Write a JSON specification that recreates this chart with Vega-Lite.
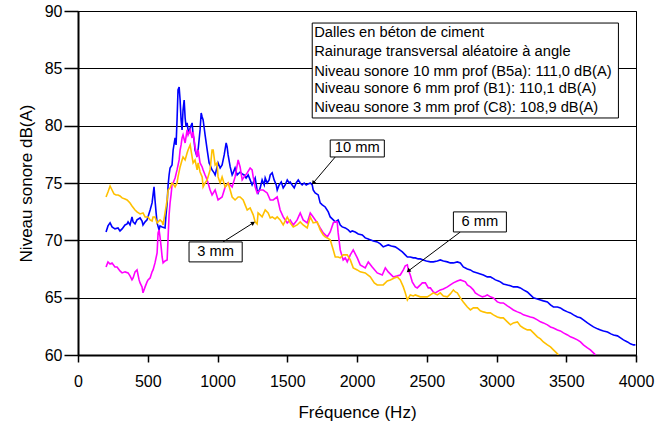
{
  "$schema": "https://vega.github.io/schema/vega-lite/v6.json",
  "autosize": {"type": "none"},
  "width": 558,
  "height": 344,
  "padding": {"left": 78, "top": 11, "right": 32, "bottom": 75},
  "background": "white",
  "config": {
    "font": "Liberation Sans",
    "view": {"stroke": "#000", "strokeWidth": 1},
    "axis": {"labelFont": "Liberation Sans", "titleFont": "Liberation Sans", "labelColor": "#000", "titleColor": "#000", "domainColor": "#000", "tickColor": "#000", "domainWidth": 2, "tickWidth": 1.5, "labelFontSize": 16, "titleFontSize": 17, "titleFontWeight": "normal", "gridColor": "#000", "gridWidth": 1, "gridOpacity": 1, "labelFlush": false, "labelOverlap": false},
    "axisX": {"grid": false, "tickSize": 7, "labelPadding": 11, "titlePadding": 15},
    "axisY": {"grid": true, "tickSize": 14, "labelPadding": 2, "titlePadding": 9}
  },
  "layer": [
    {
      "data": {"values": [
        {"f":201,"db":70.73},{"f":215,"db":71.26},{"f":230,"db":71.52},{"f":244,"db":71.17},{"f":265,"db":71.0},{"f":287,"db":71.08},{"f":301,"db":70.82},{"f":316,"db":71.0},{"f":337,"db":71.34},{"f":352,"db":71.43},{"f":359,"db":71.61},{"f":373,"db":71.34},{"f":387,"db":72.04},{"f":395,"db":71.61},{"f":409,"db":71.43},{"f":423,"db":71.78},{"f":445,"db":71.95},{"f":459,"db":71.69},{"f":466,"db":71.34},{"f":481,"db":71.61},{"f":495,"db":71.78},{"f":517,"db":72.65},{"f":531,"db":73.26},{"f":538,"db":73.96},{"f":545,"db":74.66},{"f":552,"db":73.52},{"f":560,"db":72.39},{"f":567,"db":71.52},{"f":581,"db":70.91},{"f":588,"db":71.26},{"f":603,"db":71.17},{"f":624,"db":71.08},{"f":631,"db":72.22},{"f":639,"db":73.26},{"f":646,"db":74.83},{"f":653,"db":75.7},{"f":660,"db":76.31},{"f":674,"db":76.57},{"f":682,"db":77.88},{"f":696,"db":78.93},{"f":703,"db":78.32},{"f":710,"db":80.5},{"f":717,"db":83.11},{"f":725,"db":83.37},{"f":732,"db":82.24},{"f":739,"db":80.5},{"f":746,"db":79.63},{"f":753,"db":81.37},{"f":761,"db":82.24},{"f":768,"db":80.67},{"f":775,"db":79.89},{"f":782,"db":80.24},{"f":789,"db":79.63},{"f":796,"db":79.45},{"f":804,"db":79.8},{"f":818,"db":80.24},{"f":825,"db":79.19},{"f":832,"db":78.75},{"f":839,"db":77.88},{"f":854,"db":77.27},{"f":861,"db":77.88},{"f":875,"db":79.63},{"f":883,"db":81.11},{"f":890,"db":80.76},{"f":897,"db":80.5},{"f":911,"db":79.19},{"f":926,"db":77.88},{"f":940,"db":76.75},{"f":947,"db":76.57},{"f":961,"db":76.14},{"f":976,"db":75.88},{"f":983,"db":75.7},{"f":997,"db":76.4},{"f":1004,"db":76.75},{"f":1019,"db":76.31},{"f":1033,"db":76.57},{"f":1048,"db":77.45},{"f":1062,"db":78.49},{"f":1069,"db":78.14},{"f":1076,"db":77.45},{"f":1091,"db":76.4},{"f":1105,"db":75.7},{"f":1112,"db":75.88},{"f":1126,"db":76.31},{"f":1141,"db":75.7},{"f":1162,"db":75.96},{"f":1177,"db":75.79},{"f":1191,"db":75.7},{"f":1205,"db":75.44},{"f":1220,"db":75.7},{"f":1234,"db":75.27},{"f":1248,"db":74.83},{"f":1270,"db":75.44},{"f":1284,"db":74.39},{"f":1291,"db":74.13},{"f":1306,"db":74.57},{"f":1320,"db":75.27},{"f":1335,"db":74.83},{"f":1342,"db":75.44},{"f":1356,"db":75.0},{"f":1370,"db":75.27},{"f":1378,"db":75.7},{"f":1392,"db":75.88},{"f":1406,"db":75.27},{"f":1421,"db":74.83},{"f":1428,"db":74.39},{"f":1442,"db":74.83},{"f":1457,"db":75.09},{"f":1471,"db":74.57},{"f":1485,"db":74.83},{"f":1500,"db":75.27},{"f":1514,"db":75.0},{"f":1521,"db":75.09},{"f":1535,"db":74.83},{"f":1550,"db":74.57},{"f":1564,"db":75.0},{"f":1579,"db":75.27},{"f":1593,"db":75.0},{"f":1607,"db":74.83},{"f":1621,"db":75.0},{"f":1636,"db":74.83},{"f":1650,"db":74.92},{"f":1665,"db":75.0},{"f":1679,"db":74.83},{"f":1686,"db":74.39},{"f":1700,"db":74.13},{"f":1722,"db":73.96},{"f":1736,"db":73.26},{"f":1751,"db":73.09},{"f":1772,"db":72.91},{"f":1794,"db":72.48},{"f":1808,"db":72.04},{"f":1830,"db":71.78},{"f":1844,"db":71.61},{"f":1865,"db":71.78},{"f":1880,"db":71.34},{"f":1894,"db":71.17},{"f":1916,"db":71.08},{"f":1937,"db":70.91},{"f":1952,"db":70.73},{"f":1966,"db":70.82},{"f":1987,"db":70.73},{"f":2009,"db":70.56},{"f":2038,"db":70.47},{"f":2059,"db":70.21},{"f":2081,"db":70.12},{"f":2095,"db":70.04},{"f":2117,"db":69.95},{"f":2145,"db":69.86},{"f":2167,"db":69.69},{"f":2188,"db":69.43},{"f":2203,"db":69.51},{"f":2224,"db":69.6},{"f":2246,"db":69.51},{"f":2274,"db":69.43},{"f":2296,"db":69.25},{"f":2325,"db":68.99},{"f":2346,"db":68.73},{"f":2361,"db":68.55},{"f":2382,"db":68.55},{"f":2404,"db":68.47},{"f":2418,"db":68.47},{"f":2439,"db":68.38},{"f":2454,"db":68.38},{"f":2475,"db":68.29},{"f":2497,"db":68.2},{"f":2526,"db":68.12},{"f":2547,"db":68.12},{"f":2576,"db":68.2},{"f":2597,"db":68.29},{"f":2619,"db":68.2},{"f":2648,"db":68.12},{"f":2669,"db":68.03},{"f":2691,"db":68.03},{"f":2719,"db":68.12},{"f":2741,"db":68.03},{"f":2762,"db":67.68},{"f":2791,"db":67.51},{"f":2813,"db":67.42},{"f":2834,"db":67.25},{"f":2863,"db":67.16},{"f":2884,"db":67.07},{"f":2906,"db":66.98},{"f":2934,"db":66.81},{"f":2956,"db":66.81},{"f":2970,"db":66.72},{"f":2992,"db":66.55},{"f":3014,"db":66.46},{"f":3028,"db":66.38},{"f":3049,"db":66.2},{"f":3078,"db":66.11},{"f":3100,"db":66.03},{"f":3121,"db":65.94},{"f":3150,"db":65.94},{"f":3171,"db":65.85},{"f":3193,"db":65.68},{"f":3221,"db":65.5},{"f":3243,"db":65.24},{"f":3265,"db":64.98},{"f":3293,"db":64.89},{"f":3315,"db":64.8},{"f":3336,"db":64.72},{"f":3365,"db":64.63},{"f":3387,"db":64.37},{"f":3408,"db":64.19},{"f":3437,"db":64.19},{"f":3458,"db":64.11},{"f":3480,"db":63.93},{"f":3509,"db":63.76},{"f":3530,"db":63.67},{"f":3552,"db":63.5},{"f":3580,"db":63.32},{"f":3602,"db":63.24},{"f":3623,"db":63.06},{"f":3652,"db":62.8},{"f":3673,"db":62.63},{"f":3695,"db":62.45},{"f":3724,"db":62.28},{"f":3745,"db":62.19},{"f":3767,"db":62.1},{"f":3796,"db":62.01},{"f":3820,"db":61.84},{"f":3839,"db":61.75},{"f":3867,"db":61.67},{"f":3889,"db":61.49},{"f":3910,"db":61.32},{"f":3939,"db":61.14},{"f":3960,"db":60.97},{"f":3982,"db":60.88},{"f":3996,"db":60.88}
      ]},
      "mark": {"type": "line", "color": "#0000FF", "strokeWidth": 1.6, "clip": true},
      "encoding": {
        "x": {"field": "f", "type": "quantitative", "title": "Fréquence (Hz)", "scale": {"domain": [0, 4000], "nice": false, "zero": false}, "axis": {"values": [0, 500, 1000, 1500, 2000, 2500, 3000, 3500, 4000], "format": "d"}},
        "y": {"field": "db", "type": "quantitative", "title": "Niveau sonore dB(A)", "scale": {"domain": [60, 90], "nice": false, "zero": false}, "axis": {"values": [60, 65, 70, 75, 80, 85, 90], "format": "d"}}
      }
    },
    {
      "data": {"values": [
        {"f":201,"db":67.68},{"f":215,"db":68.12},{"f":230,"db":67.94},{"f":244,"db":68.03},{"f":265,"db":67.68},{"f":280,"db":67.68},{"f":301,"db":67.33},{"f":316,"db":67.16},{"f":337,"db":67.25},{"f":359,"db":67.16},{"f":373,"db":66.9},{"f":387,"db":66.55},{"f":395,"db":66.72},{"f":409,"db":67.25},{"f":423,"db":67.42},{"f":438,"db":66.55},{"f":445,"db":66.29},{"f":459,"db":65.94},{"f":466,"db":65.42},{"f":481,"db":65.94},{"f":495,"db":66.38},{"f":502,"db":66.55},{"f":517,"db":66.72},{"f":531,"db":67.25},{"f":538,"db":67.42},{"f":552,"db":68.03},{"f":567,"db":68.9},{"f":574,"db":70.65},{"f":581,"db":70.91},{"f":588,"db":70.3},{"f":596,"db":69.43},{"f":603,"db":68.55},{"f":610,"db":68.03},{"f":624,"db":68.2},{"f":639,"db":68.29},{"f":646,"db":70.3},{"f":653,"db":72.22},{"f":660,"db":73.26},{"f":667,"db":73.96},{"f":674,"db":74.83},{"f":682,"db":75.0},{"f":696,"db":75.44},{"f":710,"db":76.14},{"f":725,"db":77.01},{"f":732,"db":77.88},{"f":739,"db":78.32},{"f":746,"db":78.93},{"f":753,"db":79.19},{"f":768,"db":78.49},{"f":782,"db":79.63},{"f":789,"db":79.19},{"f":804,"db":79.63},{"f":818,"db":78.93},{"f":825,"db":79.45},{"f":839,"db":78.14},{"f":854,"db":77.27},{"f":861,"db":77.88},{"f":875,"db":76.75},{"f":890,"db":76.4},{"f":897,"db":76.14},{"f":911,"db":75.7},{"f":926,"db":75.27},{"f":947,"db":74.39},{"f":961,"db":73.96},{"f":983,"db":74.39},{"f":1004,"db":73.52},{"f":1033,"db":73.78},{"f":1055,"db":74.66},{"f":1076,"db":75.0},{"f":1105,"db":74.66},{"f":1126,"db":75.53},{"f":1148,"db":77.01},{"f":1162,"db":76.4},{"f":1177,"db":75.27},{"f":1191,"db":75.53},{"f":1213,"db":75.88},{"f":1234,"db":76.31},{"f":1248,"db":76.14},{"f":1256,"db":75.53},{"f":1270,"db":74.66},{"f":1284,"db":74.13},{"f":1306,"db":74.39},{"f":1327,"db":74.39},{"f":1356,"db":74.13},{"f":1378,"db":73.52},{"f":1399,"db":73.52},{"f":1428,"db":73.78},{"f":1449,"db":72.65},{"f":1471,"db":72.04},{"f":1500,"db":71.52},{"f":1521,"db":71.78},{"f":1543,"db":71.34},{"f":1571,"db":71.78},{"f":1593,"db":72.39},{"f":1614,"db":71.78},{"f":1643,"db":71.52},{"f":1665,"db":72.39},{"f":1686,"db":72.04},{"f":1715,"db":71.52},{"f":1736,"db":71.08},{"f":1758,"db":70.65},{"f":1787,"db":70.3},{"f":1808,"db":70.73},{"f":1830,"db":71.52},{"f":1844,"db":71.61},{"f":1858,"db":71.61},{"f":1865,"db":70.65},{"f":1880,"db":69.16},{"f":1901,"db":68.29},{"f":1916,"db":68.47},{"f":1930,"db":68.12},{"f":1952,"db":68.73},{"f":1973,"db":69.16},{"f":2002,"db":68.47},{"f":2023,"db":67.86},{"f":2059,"db":67.6},{"f":2081,"db":68.12},{"f":2109,"db":67.68},{"f":2145,"db":67.16},{"f":2181,"db":66.98},{"f":2203,"db":67.6},{"f":2224,"db":67.25},{"f":2260,"db":66.81},{"f":2289,"db":66.9},{"f":2310,"db":66.98},{"f":2332,"db":67.42},{"f":2346,"db":67.77},{"f":2361,"db":67.86},{"f":2368,"db":67.42},{"f":2382,"db":66.98},{"f":2396,"db":66.38},{"f":2418,"db":65.94},{"f":2432,"db":65.85},{"f":2454,"db":66.11},{"f":2468,"db":66.29},{"f":2490,"db":66.29},{"f":2511,"db":65.85},{"f":2526,"db":65.85},{"f":2547,"db":65.5},{"f":2561,"db":65.42},{"f":2597,"db":65.68},{"f":2619,"db":65.76},{"f":2648,"db":65.94},{"f":2669,"db":66.11},{"f":2691,"db":66.29},{"f":2719,"db":66.46},{"f":2741,"db":66.55},{"f":2762,"db":66.46},{"f":2777,"db":66.38},{"f":2791,"db":66.11},{"f":2813,"db":65.94},{"f":2834,"db":65.68},{"f":2848,"db":65.42},{"f":2870,"db":65.24},{"f":2899,"db":65.07},{"f":2920,"db":65.15},{"f":2934,"db":65.24},{"f":2956,"db":65.07},{"f":2978,"db":64.98},{"f":3006,"db":64.63},{"f":3028,"db":64.54},{"f":3049,"db":64.54},{"f":3078,"db":64.28},{"f":3100,"db":64.11},{"f":3121,"db":63.93},{"f":3150,"db":63.76},{"f":3171,"db":63.67},{"f":3193,"db":63.5},{"f":3221,"db":63.41},{"f":3243,"db":63.32},{"f":3265,"db":63.24},{"f":3293,"db":63.06},{"f":3315,"db":62.89},{"f":3336,"db":62.8},{"f":3365,"db":62.63},{"f":3387,"db":62.45},{"f":3408,"db":62.36},{"f":3437,"db":62.19},{"f":3458,"db":62.1},{"f":3480,"db":61.93},{"f":3509,"db":61.75},{"f":3530,"db":61.58},{"f":3552,"db":61.49},{"f":3580,"db":61.32},{"f":3602,"db":61.14},{"f":3623,"db":60.88},{"f":3652,"db":60.62},{"f":3673,"db":60.45},{"f":3695,"db":60.18},{"f":3709,"db":60.01}
      ]},
      "mark": {"type": "line", "color": "#FF00FF", "strokeWidth": 1.6, "clip": true},
      "encoding": {
        "x": {"field": "f", "type": "quantitative", "title": "Fréquence (Hz)"},
        "y": {"field": "db", "type": "quantitative", "title": "Niveau sonore dB(A)"}
      }
    },
    {
      "data": {"values": [
        {"f":201,"db":73.78},{"f":215,"db":74.22},{"f":230,"db":74.74},{"f":244,"db":74.39},{"f":258,"db":74.05},{"f":273,"db":73.96},{"f":287,"db":73.96},{"f":301,"db":73.87},{"f":316,"db":73.7},{"f":337,"db":73.61},{"f":352,"db":73.52},{"f":373,"db":73.26},{"f":387,"db":73.0},{"f":409,"db":72.65},{"f":423,"db":72.48},{"f":445,"db":72.3},{"f":466,"db":72.39},{"f":481,"db":72.04},{"f":502,"db":72.04},{"f":517,"db":71.78},{"f":531,"db":71.69},{"f":538,"db":72.04},{"f":552,"db":72.04},{"f":567,"db":71.52},{"f":574,"db":71.61},{"f":588,"db":71.78},{"f":603,"db":71.61},{"f":610,"db":71.34},{"f":624,"db":72.39},{"f":639,"db":73.52},{"f":646,"db":74.39},{"f":660,"db":74.57},{"f":674,"db":75.0},{"f":682,"db":74.92},{"f":696,"db":74.66},{"f":710,"db":75.0},{"f":717,"db":75.53},{"f":732,"db":76.4},{"f":746,"db":77.01},{"f":753,"db":77.27},{"f":768,"db":77.01},{"f":782,"db":77.62},{"f":789,"db":77.88},{"f":804,"db":78.32},{"f":818,"db":77.27},{"f":825,"db":76.75},{"f":839,"db":77.01},{"f":854,"db":76.14},{"f":861,"db":76.75},{"f":875,"db":75.96},{"f":890,"db":75.53},{"f":897,"db":74.66},{"f":911,"db":75.0},{"f":926,"db":75.27},{"f":947,"db":76.14},{"f":961,"db":77.88},{"f":969,"db":77.88},{"f":983,"db":76.57},{"f":997,"db":76.75},{"f":1004,"db":75.53},{"f":1019,"db":75.0},{"f":1033,"db":75.53},{"f":1055,"db":74.66},{"f":1076,"db":75.0},{"f":1091,"db":74.39},{"f":1105,"db":73.78},{"f":1126,"db":73.52},{"f":1148,"db":73.78},{"f":1162,"db":73.78},{"f":1184,"db":73.52},{"f":1198,"db":73.09},{"f":1213,"db":72.65},{"f":1234,"db":72.83},{"f":1256,"db":72.22},{"f":1270,"db":71.61},{"f":1284,"db":71.43},{"f":1291,"db":72.39},{"f":1306,"db":72.22},{"f":1320,"db":72.04},{"f":1342,"db":72.65},{"f":1363,"db":72.39},{"f":1378,"db":71.95},{"f":1392,"db":72.04},{"f":1413,"db":71.87},{"f":1428,"db":72.04},{"f":1449,"db":71.78},{"f":1471,"db":71.34},{"f":1500,"db":72.04},{"f":1521,"db":71.52},{"f":1543,"db":71.17},{"f":1571,"db":71.34},{"f":1593,"db":71.61},{"f":1614,"db":71.34},{"f":1643,"db":71.08},{"f":1665,"db":72.04},{"f":1686,"db":71.52},{"f":1715,"db":71.61},{"f":1736,"db":70.91},{"f":1758,"db":70.47},{"f":1772,"db":70.3},{"f":1787,"db":70.21},{"f":1808,"db":70.04},{"f":1830,"db":69.16},{"f":1844,"db":68.55},{"f":1865,"db":68.55},{"f":1880,"db":68.47},{"f":1901,"db":68.73},{"f":1930,"db":68.73},{"f":1952,"db":68.29},{"f":1973,"db":67.6},{"f":2002,"db":67.42},{"f":2023,"db":67.25},{"f":2059,"db":67.16},{"f":2095,"db":66.81},{"f":2124,"db":66.29},{"f":2145,"db":66.11},{"f":2188,"db":66.11},{"f":2217,"db":66.46},{"f":2239,"db":66.55},{"f":2267,"db":66.72},{"f":2289,"db":66.81},{"f":2310,"db":66.55},{"f":2332,"db":65.94},{"f":2346,"db":65.42},{"f":2361,"db":64.8},{"f":2382,"db":65.24},{"f":2404,"db":65.15},{"f":2418,"db":65.24},{"f":2454,"db":65.07},{"f":2483,"db":65.07},{"f":2504,"db":65.07},{"f":2526,"db":65.24},{"f":2547,"db":65.42},{"f":2576,"db":65.24},{"f":2597,"db":65.42},{"f":2619,"db":65.15},{"f":2648,"db":65.07},{"f":2669,"db":65.33},{"f":2691,"db":65.68},{"f":2705,"db":65.5},{"f":2719,"db":65.42},{"f":2741,"db":64.98},{"f":2762,"db":64.63},{"f":2791,"db":64.19},{"f":2813,"db":63.93},{"f":2834,"db":64.11},{"f":2863,"db":64.11},{"f":2884,"db":63.85},{"f":2906,"db":63.76},{"f":2934,"db":63.67},{"f":2956,"db":63.67},{"f":2978,"db":63.5},{"f":3006,"db":63.32},{"f":3028,"db":63.24},{"f":3049,"db":63.24},{"f":3078,"db":62.89},{"f":3100,"db":62.63},{"f":3121,"db":62.8},{"f":3150,"db":62.89},{"f":3171,"db":62.54},{"f":3193,"db":62.36},{"f":3221,"db":62.19},{"f":3243,"db":62.19},{"f":3265,"db":61.93},{"f":3293,"db":61.58},{"f":3315,"db":61.41},{"f":3336,"db":61.14},{"f":3365,"db":60.88},{"f":3387,"db":60.71},{"f":3408,"db":60.45},{"f":3423,"db":60.27},{"f":3444,"db":60.01}
      ]},
      "mark": {"type": "line", "color": "#FFC000", "strokeWidth": 1.6, "clip": true},
      "encoding": {
        "x": {"field": "f", "type": "quantitative", "title": "Fréquence (Hz)"},
        "y": {"field": "db", "type": "quantitative", "title": "Niveau sonore dB(A)"}
      }
    },
    {
      "data": {"values": [{"f": 1679, "f2": 3874, "db": 88.95, "db2": 80.67}]},
      "mark": {"type": "rect", "fill": "white", "stroke": "#000", "strokeWidth": 1},
      "encoding": {
        "x": {"field": "f", "type": "quantitative", "title": "Fréquence (Hz)"},
        "x2": {"field": "f2"},
        "y": {"field": "db", "type": "quantitative", "title": "Niveau sonore dB(A)"},
        "y2": {"field": "db2"}
      }
    },
    {
      "data": {"values": [
        {"f": 1693, "db": 88.06, "t": "Dalles en béton de ciment"},
        {"f": 1693, "db": 86.45, "t": "Rainurage transversal aléatoire à angle"},
        {"f": 1693, "db": 84.71, "t": "Niveau sonore 10 mm prof (B5a): 111,0 dB(A)"},
        {"f": 1693, "db": 83.17, "t": "Niveau sonore 6 mm prof (B1): 110,1 dB(A)"},
        {"f": 1693, "db": 81.52, "t": "Niveau sonore 3 mm prof (C8): 108,9 dB(A)"}
      ]},
      "mark": {"type": "text", "align": "left", "baseline": "middle", "fontSize": 14.7, "color": "#000", "font": "Liberation Sans"},
      "encoding": {
        "x": {"field": "f", "type": "quantitative", "title": "Fréquence (Hz)"},
        "y": {"field": "db", "type": "quantitative", "title": "Niveau sonore dB(A)"},
        "text": {"field": "t"}
      }
    },
    {
      "data": {"values": [
        {"f": 1844, "db": 77.27, "f2": 1686, "db2": 75.0},
        {"f": 2741, "db": 70.73, "f2": 2368, "db2": 67.33},
        {"f": 1040, "db": 69.86, "f2": 1256, "db2": 71.52}
      ]},
      "mark": {"type": "rule", "color": "#000", "strokeWidth": 1},
      "encoding": {
        "x": {"field": "f", "type": "quantitative", "title": "Fréquence (Hz)"},
        "x2": {"field": "f2"},
        "y": {"field": "db", "type": "quantitative", "title": "Niveau sonore dB(A)"},
        "y2": {"field": "db2"}
      }
    },
    {
      "data": {"values": [{"f": 1686, "db": 75.0}]},
      "mark": {"type": "point", "shape": "triangle-up", "filled": true, "color": "#000", "size": 22, "angle": 220, "opacity": 1},
      "encoding": {
        "x": {"field": "f", "type": "quantitative", "title": "Fréquence (Hz)"},
        "y": {"field": "db", "type": "quantitative", "title": "Niveau sonore dB(A)"}
      }
    },
    {
      "data": {"values": [{"f": 2368, "db": 67.33}]},
      "mark": {"type": "point", "shape": "triangle-up", "filled": true, "color": "#000", "size": 22, "angle": 233, "opacity": 1},
      "encoding": {
        "x": {"field": "f", "type": "quantitative", "title": "Fréquence (Hz)"},
        "y": {"field": "db", "type": "quantitative", "title": "Niveau sonore dB(A)"}
      }
    },
    {
      "data": {"values": [{"f": 1256, "db": 71.52}]},
      "mark": {"type": "point", "shape": "triangle-up", "filled": true, "color": "#000", "size": 22, "angle": 58, "opacity": 1},
      "encoding": {
        "x": {"field": "f", "type": "quantitative", "title": "Fréquence (Hz)"},
        "y": {"field": "db", "type": "quantitative", "title": "Niveau sonore dB(A)"}
      }
    },
    {
      "data": {"values": [
        {"f": 1808, "f2": 2196, "db": 78.75, "db2": 77.27},
        {"f": 2691, "f2": 3071, "db": 72.48, "db2": 70.73},
        {"f": 796, "f2": 1177, "db": 69.86, "db2": 68.12}
      ]},
      "mark": {"type": "rect", "fill": "white", "stroke": "#000", "strokeWidth": 1},
      "encoding": {
        "x": {"field": "f", "type": "quantitative", "title": "Fréquence (Hz)"},
        "x2": {"field": "f2"},
        "y": {"field": "db", "type": "quantitative", "title": "Niveau sonore dB(A)"},
        "y2": {"field": "db2"}
      }
    },
    {
      "data": {"values": [
        {"f": 2002, "db": 78.01, "t": "10 mm"},
        {"f": 2881, "db": 71.61, "t": "6 mm"},
        {"f": 986, "db": 68.99, "t": "3 mm"}
      ]},
      "mark": {"type": "text", "align": "center", "baseline": "middle", "fontSize": 14.7, "color": "#000", "font": "Liberation Sans"},
      "encoding": {
        "x": {"field": "f", "type": "quantitative", "title": "Fréquence (Hz)"},
        "y": {"field": "db", "type": "quantitative", "title": "Niveau sonore dB(A)"},
        "text": {"field": "t"}
      }
    }
  ]
}
